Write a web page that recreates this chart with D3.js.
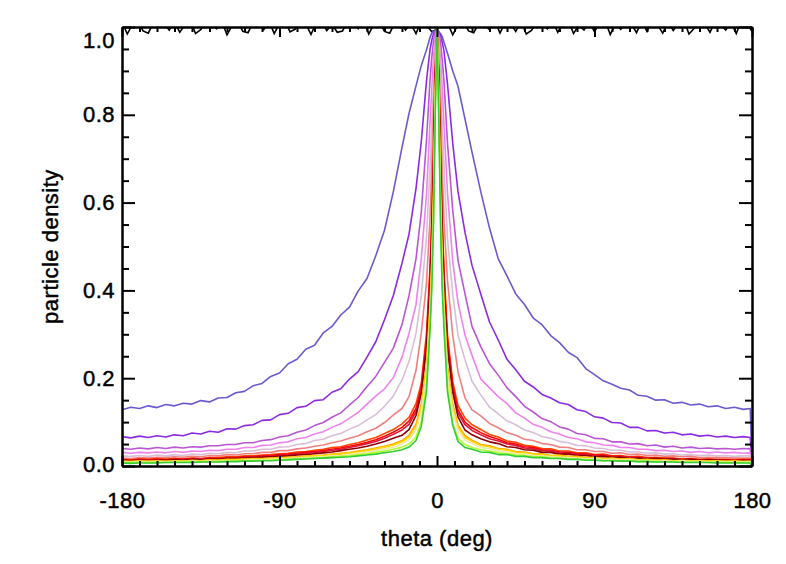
<!DOCTYPE html>
<html>
<head>
<meta charset="utf-8">
<script src="https://cdn.jsdelivr.net/npm/d3@7"></script>
<style>
  body { margin: 0; background: #fff; }
  svg text { font-family: "Liberation Sans", Helvetica, Arial, sans-serif; fill: #000; stroke: #000; stroke-width: 0.45px; }
</style>
</head>
<body>
<div id="chart"></div>
<script>
// shared angle grid (deg) for the density curves
const theta = [-180,-175,-170,-165,-160,-155,-150,-145,-140,-135,-130,-125,-120,-115,-110,-105,-100,-95,-90,-85,-80,-75,-70,-65,-60,-55,-50,-45,-40,-35,-30,
  -25,-20,-16,-12,-9,-6,-4,-3,-2,-1,0,1,2,3,4,6,9,12,16,20,25,
  30,35,40,45,50,55,60,65,70,75,80,85,90,95,100,105,110,115,120,125,130,135,140,145,150,155,160,165,170,175,179,180]

const slateRun = [.128,.134,.131,.137,.133,.140,.137,.143,.141,.149,.146,.155,.156,.167,.170,.183,.188,.204,.212,.233,.243,.266,.275,.303,.318,.344,.362,.399,.427,.479,.537,
  .624,.726,.803,.866,.912,.948,.976,.986,.990,.992,.990,.988,.985,.978,.965,.940,.900,.865,.790,.715,.625,
  .542,.472,.433,.392,.368,.337,.322,.297,.281,.259,.247,.222,.208,.194,.186,.177,.173,.161,.159,.150,.151,.143,.145,.139,.141,.135,.137,.131,.134,.129,.131,0]
const violetBlueRun = [.067,.064,.068,.065,.069,.066,.071,.069,.075,.073,.079,.077,.085,.084,.092,.094,.104,.105,.117,.120,.133,.136,.149,.151,.168,.176,.198,.215,.248,.283,.333,
  .388,.462,.528,.632,.738,.878,.948,.970,.985,.990,.995,.990,.982,.965,.945,.870,.735,.625,.532,.457,.392,
  .328,.287,.243,.219,.193,.180,.163,.155,.144,.140,.128,.124,.112,.109,.099,.098,.088,.088,.080,.081,.075,.077,.071,.073,.068,.070,.066,.068,.065,.067,.065,0]
const orchidRun = [.040,.038,.041,.039,.042,.040,.043,.041,.044,.043,.046,.046,.049,.049,.053,.053,.058,.060,.066,.069,.077,.082,.092,.099,.111,.121,.139,.156,.181,.204,.236,
  .268,.322,.388,.472,.578,.742,.878,.930,.968,.990,.995,.988,.965,.925,.875,.735,.582,.468,.392,.318,.272,
  .233,.207,.178,.158,.136,.123,.108,.101,.089,.084,.074,.071,.063,.062,.055,.055,.050,.051,.046,.048,.043,.045,.041,.043,.040,.041,.039,.040,.038,.040,.039,0]
const violetRun = [.031,.029,.031,.030,.032,.030,.033,.031,.034,.033,.036,.035,.038,.038,.042,.042,.047,.048,.053,.055,.062,.065,.073,.078,.088,.096,.109,.122,.141,.159,.176,
  .201,.248,.302,.368,.472,.618,.782,.858,.930,.978,.995,.980,.925,.862,.775,.622,.466,.372,.298,.252,.198,
  .178,.158,.142,.121,.109,.095,.088,.078,.073,.065,.062,.055,.053,.048,.047,.042,.042,.038,.038,.035,.036,.033,.034,.031,.033,.030,.032,.030,.031,.029,.030,0]
const thistleRun = [.023,.022,.024,.022,.025,.023,.026,.024,.027,.026,.029,.028,.031,.030,.034,.034,.038,.038,.043,.044,.049,.051,.058,.061,.069,.074,.084,.092,.105,.117,.136,
  .159,.196,.238,.302,.388,.522,.678,.782,.878,.960,.990,.958,.882,.778,.682,.518,.392,.298,.242,.193,.162,
  .134,.119,.103,.094,.082,.076,.067,.063,.056,.053,.047,.046,.041,.040,.036,.036,.032,.032,.029,.030,.027,.028,.025,.026,.024,.025,.023,.024,.022,.023,.023,0]
const coralRun = [.018,.017,.019,.018,.020,.019,.021,.020,.022,.021,.024,.023,.026,.025,.028,.028,.031,.031,.035,.035,.039,.041,.045,.048,.053,.057,.063,.069,.078,.086,.099,
  .116,.131,.158,.218,.302,.418,.562,.680,.820,.940,.990,.938,.822,.676,.558,.422,.298,.215,.155,.128,.114,
  .097,.087,.076,.070,.061,.058,.051,.049,.043,.042,.037,.037,.033,.033,.029,.030,.026,.027,.024,.025,.022,.023,.021,.022,.019,.020,.019,.019,.018,.018,.018,0]
const orangeRedRun = [.015,.014,.016,.015,.017,.016,.017,.016,.018,.017,.019,.019,.021,.021,.023,.023,.025,.026,.028,.029,.032,.033,.036,.038,.042,.044,.049,.053,.059,.065,.074,
  .083,.096,.111,.142,.188,.302,.452,.558,.720,.900,.990,.898,.718,.562,.448,.298,.192,.138,.109,.094,.083,
  .072,.066,.057,.054,.047,.045,.040,.039,.034,.034,.030,.030,.026,.027,.023,.024,.021,.022,.019,.020,.018,.018,.016,.017,.015,.016,.015,.015,.014,.015,.015,0]
const redRun = [.014,.013,.015,.014,.015,.014,.016,.015,.017,.016,.018,.017,.019,.019,.021,.021,.023,.024,.026,.027,.029,.031,.033,.035,.038,.041,.045,.049,.054,.060,.068,
  .077,.088,.102,.131,.178,.288,.438,.545,.705,.892,.990,.890,.710,.548,.432,.285,.182,.128,.100,.087,.076,
  .067,.061,.053,.050,.044,.042,.037,.036,.032,.031,.028,.028,.025,.025,.022,.022,.020,.020,.018,.018,.017,.017,.015,.016,.014,.015,.014,.014,.013,.014,.014,0]
const crimsonRun = [.013,.012,.014,.013,.014,.013,.015,.014,.016,.015,.017,.016,.018,.018,.020,.020,.022,.022,.024,.025,.027,.029,.031,.033,.036,.038,.042,.046,.051,.056,.063,
  .072,.082,.095,.124,.170,.278,.428,.535,.695,.885,.995,.882,.698,.532,.425,.275,.174,.121,.094,.081,.071,
  .062,.057,.050,.047,.041,.039,.035,.034,.030,.029,.026,.026,.023,.023,.021,.021,.019,.019,.017,.017,.016,.016,.014,.015,.013,.014,.013,.013,.012,.013,.013,0]
const darkRedRun = [.013,.012,.013,.012,.013,.013,.014,.013,.015,.014,.016,.015,.017,.017,.018,.019,.020,.021,.022,.023,.025,.026,.028,.030,.032,.035,.038,.041,.045,.050,.056,
  .063,.070,.083,.115,.165,.270,.410,.520,.670,.880,1.00,.878,.672,.518,.405,.268,.168,.112,.082,.071,.062,
  .055,.051,.044,.042,.037,.036,.031,.031,.027,.027,.024,.024,.021,.022,.019,.020,.017,.018,.016,.017,.015,.016,.014,.015,.013,.014,.013,.013,.012,.013,.013,0]
const orangeRun = [.011,.010,.011,.011,.011,.011,.012,.011,.013,.012,.014,.013,.015,.015,.016,.017,.017,.018,.019,.020,.021,.023,.024,.025,.027,.029,.031,.034,.037,.041,.045,
  .050,.058,.070,.095,.140,.230,.370,.470,.620,.850,1.00,.848,.625,.465,.372,.228,.142,.093,.069,.059,.049,
  .046,.040,.038,.033,.032,.028,.028,.024,.025,.022,.022,.019,.020,.017,.018,.016,.017,.014,.015,.013,.014,.012,.013,.012,.012,.011,.012,.011,.011,.010,.011,0]
const goldRun = [.010,.010,.011,.010,.011,.010,.011,.011,.012,.012,.013,.013,.014,.014,.015,.016,.016,.017,.018,.019,.020,.022,.023,.024,.026,.027,.030,.032,.035,.039,.043,
  .048,.055,.066,.090,.132,.220,.355,.455,.605,.840,1.00,.838,.608,.452,.358,.218,.135,.088,.065,.056,.047,
  .044,.038,.036,.031,.030,.027,.026,.023,.023,.021,.020,.018,.019,.016,.017,.015,.016,.014,.014,.013,.013,.012,.012,.011,.012,.011,.011,.010,.011,.010,.010,0]
const paleGoldRun = [.009,.009,.010,.009,.010,.009,.010,.010,.011,.010,.011,.011,.012,.012,.013,.014,.014,.015,.016,.017,.018,.019,.020,.021,.023,.024,.026,.029,.031,.035,.039,
  .043,.050,.060,.082,.122,.205,.340,.440,.590,.830,1.00,.826,.594,.436,.342,.202,.125,.080,.059,.051,.042,
  .040,.034,.032,.028,.027,.024,.023,.021,.020,.019,.018,.016,.017,.014,.015,.013,.014,.012,.012,.011,.012,.010,.011,.010,.010,.009,.010,.009,.009,.009,.009,0]
const yellowGreenRun = [.008,.008,.009,.008,.009,.008,.009,.009,.010,.009,.010,.010,.011,.011,.012,.012,.013,.013,.014,.015,.016,.017,.018,.019,.021,.022,.023,.026,.028,.031,.034,
  .038,.043,.050,.066,.100,.185,.320,.420,.570,.815,1.00,.812,.575,.415,.325,.180,.097,.063,.049,.042,.037,
  .034,.030,.028,.025,.024,.021,.021,.018,.018,.016,.016,.014,.014,.012,.013,.011,.012,.010,.011,.010,.010,.009,.009,.009,.009,.008,.009,.008,.008,.008,.008,0]
const limeRun = [.007,.006,.007,.007,.007,.008,.008,.008,.008,.009,.009,.009,.010,.010,.011,.011,.012,.012,.013,.014,.015,.016,.017,.018,.019,.020,.021,.023,.025,.027,.030,
  .033,.037,.043,.058,.090,.170,.310,.400,.550,.800,1.00,.795,.552,.398,.312,.168,.092,.056,.042,.038,.032,
  .031,.026,.026,.022,.022,.019,.019,.017,.017,.015,.015,.013,.013,.012,.012,.011,.011,.010,.010,.009,.009,.009,.008,.008,.008,.008,.007,.007,.007,.007,.007,0]

// the flat reference run hugging the 1.0 line (only its dips show)
const flatTheta = [-180,-177,-174,-171,-168,-165,-162,-159,-156,-153,-150,-147,-144,-141,-138,-135,-132,-129,-126,-123,
  -120,-117,-114,-111,-108,-105,-102,-99,-96,-93,-90,-87,-84,-81,-78,-75,-72,-69,-66,-63,
  -60,-57,-54,-51,-48,-45,-42,-39,-36,-33,-30,-27,-24,-21,-18,-15,-12,-9,-6,-3,
  0,3,6,9,12,15,18,21,24,27,30,33,36,39,42,45,48,51,54,57,
  60,63,66,69,72,75,78,81,84,87,90,93,96,99,102,105,108,111,114,117,
  120,123,126,129,132,135,138,141,144,147,150,153,156,159,162,165,168,171,174,177,180]
const flatRun = [1.012,.984,1.006,1.014, .991,.986,1.010,1.015, 1.008,.993,1.011,.988, 1.005,1.016,.985,.994, 1.012,1.009,.996,1.013,
  .982,1.004,1.015,.990, .987,1.011,1.006,.994, 1.013,.985,1.008,1.016, .989,.995,1.012,1.007, .983,1.010,1.014,.992,
  1.006,.988,.991,1.013, 1.009,.996,1.015,.984, 1.007,1.012,.990,.986, 1.011,1.016,.993,1.008, .985,1.013,1.005,.989,
  .995,1.012,1.009,.982, 1.006,1.014,.991,.987, 1.010,1.005,.994,1.015, .986,1.011,1.008,.990, 1.013,.984,.992,1.012,
  1.007,.996,1.014,.988, 1.009,1.016,.985,1.004, .993,1.012,.989,1.010, 1.015,.983,1.006,.995, 1.011,1.008,.987,1.013,
  .990,1.014,1.005,.986, 1.012,.992,1.009,1.016, .984,.997,1.011,1.007, .988,1.013,1.006,.993, 1.010,.985,1.015,1.008, .990]

const runs = [slateRun, violetBlueRun, orchidRun, violetRun, thistleRun, coralRun, orangeRedRun, redRun,
  crimsonRun, darkRedRun, orangeRun, goldRun, paleGoldRun, yellowGreenRun, limeRun]
const runColors = ['#6a5acd', '#8a2be2', '#ba55d3', '#ee82ee', '#d8bfd8', '#f08080', '#ff4500', '#ff0000',
  '#dc143c', '#8b0000', '#ffa500', '#ffd700', '#eee8aa', '#adff2f', '#32cd32']

const xMajor = [-180, -90, 0, 90, 180]
const yMajor = [0, 0.2, 0.4, 0.6, 0.8, 1.0]

const width = 786, height = 564
const plotLeft = 122, plotRight = 752, plotTop = 27, plotBottom = 466

const svg = d3.select('#chart').append('svg')
  .attr('width', width)
  .attr('height', height)

const x = d3.scaleLinear().domain([-180, 180]).range([plotLeft, plotRight])
const y = d3.scaleLinear().domain([0, 1]).range([plotBottom, plotTop])

svg.append('clipPath').attr('id', 'plot-clip')
  .append('rect')
  .attr('x', plotLeft).attr('y', plotTop)
  .attr('width', plotRight - plotLeft).attr('height', plotBottom - plotTop)

const plot = svg.append('g').attr('clip-path', 'url(#plot-clip)')

const line = d3.line().x(d => x(d[0])).y(d => y(d[1]))

plot.append('path')
  .datum(flatTheta.map((t, i) => [t, flatRun[i]]))
  .attr('fill', 'none')
  .attr('stroke', '#000')
  .attr('stroke-width', 1.6)
  .attr('d', line)

runs.forEach((run, k) => {
  plot.append('path')
    .datum(theta.map((t, i) => [t, run[i]]))
    .attr('fill', 'none')
    .attr('stroke', runColors[k])
    .attr('stroke-width', 1.6)
    .attr('stroke-linejoin', 'round')
    .attr('d', line)
})

// axes: ticks point into the plot, minor ticks every 10 deg / 0.05
const xMinor = d3.range(-180, 181, 10).filter(v => v % 90 !== 0)
const yMinor = d3.range(0.05, 1, 0.05).filter(v => Math.abs(v * 5 - Math.round(v * 5)) > 1e-6)

const styleAxis = g => {
  g.select('.domain').attr('stroke-width', 2)
  g.selectAll('.tick line').attr('stroke-width', 2)
  g.selectAll('text')
    .style('font-size', '22px')
    .style('letter-spacing', '0.5px')
}

svg.append('g').attr('transform', `translate(0,${plotBottom})`)
  .call(d3.axisBottom(x).tickValues(xMajor).tickSizeInner(-10).tickSizeOuter(0).tickPadding(26).tickFormat(d => String(d)))
  .call(styleAxis)
svg.append('g').attr('transform', `translate(0,${plotBottom})`)
  .call(d3.axisBottom(x).tickValues(xMinor).tickSizeInner(-5).tickSizeOuter(0).tickFormat(''))
  .call(styleAxis)
svg.append('g').attr('transform', `translate(0,${plotTop})`)
  .call(d3.axisTop(x).tickValues(xMajor).tickSizeInner(-10).tickSizeOuter(0).tickFormat(''))
  .call(styleAxis)
svg.append('g').attr('transform', `translate(0,${plotTop})`)
  .call(d3.axisTop(x).tickValues(xMinor).tickSizeInner(-5).tickSizeOuter(0).tickFormat(''))
  .call(styleAxis)

const yAxis = svg.append('g').attr('transform', `translate(${plotLeft},0)`)
  .call(d3.axisLeft(y).tickValues(yMajor).tickSizeInner(-13).tickSizeOuter(0).tickPadding(7).tickFormat(d3.format('.1f')))
  .call(styleAxis)
yAxis.selectAll('.tick text')
  .attr('y', d => d === 1 ? 13 : d === 0 ? -2 : 0)
svg.append('g').attr('transform', `translate(${plotLeft},0)`)
  .call(d3.axisLeft(y).tickValues(yMinor).tickSizeInner(-7).tickSizeOuter(0).tickFormat(''))
  .call(styleAxis)
svg.append('g').attr('transform', `translate(${plotRight},0)`)
  .call(d3.axisRight(y).tickValues(yMajor).tickSizeInner(-13).tickSizeOuter(0).tickFormat(''))
  .call(styleAxis)
svg.append('g').attr('transform', `translate(${plotRight},0)`)
  .call(d3.axisRight(y).tickValues(yMinor).tickSizeInner(-7).tickSizeOuter(0).tickFormat(''))
  .call(styleAxis)

svg.append('text')
  .attr('x', (plotLeft + plotRight) / 2)
  .attr('y', 546)
  .attr('text-anchor', 'middle')
  .style('font-size', '22px')
  .style('letter-spacing', '0.5px')
  .text('theta (deg)')

svg.append('text')
  .attr('transform', `translate(58,${(plotTop + plotBottom) / 2}) rotate(-90)`)
  .attr('text-anchor', 'middle')
  .style('font-size', '22px')
  .style('letter-spacing', '0.5px')
  .text('particle density')
</script>
</body>
</html>
